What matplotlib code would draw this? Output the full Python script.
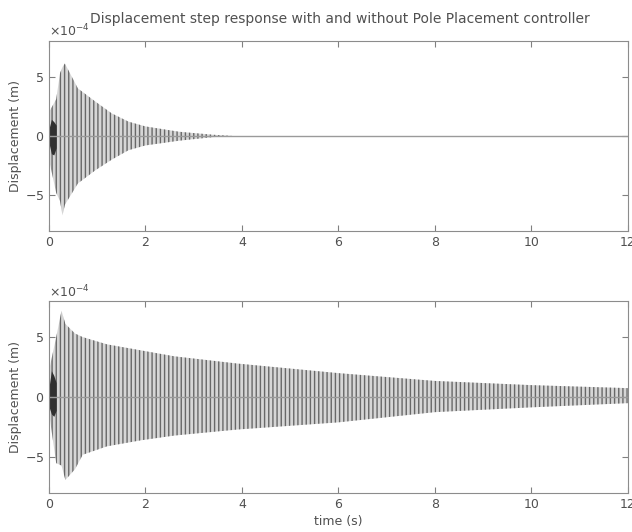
import matplotlib
matplotlib.use("Agg")
import numpy as np
import matplotlib.pyplot as plt
from matplotlib.ticker import ScalarFormatter

# Envelope of the oscillation (units of 1e-4 m)
top_t = [0.0, 0.15, 0.23, 0.28, 0.33, 0.6, 0.96, 1.3, 1.65, 2.0, 2.7, 3.4, 3.8]
top_up = [2.0, 3.1, 5.3, 5.8, 6.1, 4.0, 2.9, 1.9, 1.2, 0.8, 0.35, 0.1, 0.0]
top_lo = [-2.0, -4.8, -5.5, -6.7, -5.8, -4.0, -2.9, -2.0, -1.2, -0.8, -0.4, -0.1, 0.0]

bot_t = [0.0, 0.15, 0.26, 0.34, 0.54, 0.7, 1.2, 1.9, 2.6, 3.9, 6.0, 8.0, 10.0, 12.0]
bot_up = [2.2, 5.0, 7.2, 6.1, 5.3, 5.0, 4.4, 3.9, 3.4, 2.8, 2.0, 1.35, 1.0, 0.75]
bot_lo = [-1.3, -5.5, -5.7, -6.9, -6.0, -4.8, -4.1, -3.6, -3.2, -2.7, -2.1, -1.25, -0.85, -0.5]

# dark burst right after the step
burst_t = [0.0, 0.05, 0.1, 0.15]
top_burst_up = [0.6, 1.4, 1.2, 0.9]
top_burst_lo = [-0.6, -1.5, -1.6, -1.0]
bot_burst_up = [0.8, 2.2, 1.8, 1.2]
bot_burst_lo = [-0.8, -1.4, -1.6, -1.1]

t_span = [0, 12]
xticks = [0, 2, 4, 6, 8, 10, 12]
yticks = [-5, 0, 5]
scale = 1e-4

plt.rcParams["hatch.color"] = "#686868"
plt.rcParams["hatch.linewidth"] = 1.0
txt = "#505050"

fig = plt.figure(figsize=(6.32, 5.32), dpi=100)
ax1 = fig.add_axes([0.0775, 0.566, 0.916, 0.357])
ax2 = fig.add_axes([0.0775, 0.073, 0.916, 0.361])


def draw(ax, t, up, lo, bt, bup, blo):
    ax.plot(t_span, [0, 0], color="#9a9a9a", lw=1.0)
    ax.fill_between(np.array(t), np.array(lo) * scale, np.array(up) * scale,
                    facecolor="#d6d6d6", edgecolor="#686868", hatch="||||", lw=0)
    ax.fill_between(np.array(bt), np.array(blo) * scale, np.array(bup) * scale,
                    facecolor="#303030", edgecolor="#303030", lw=0)
    ax.set_xlim(0, 12)
    ax.set_ylim(-8 * scale, 8 * scale)
    ax.set_xticks(xticks)
    ax.set_yticks([v * scale for v in yticks])
    fmt = ScalarFormatter(useMathText=True)
    fmt.set_powerlimits((0, 0))
    ax.yaxis.set_major_formatter(fmt)
    ax.yaxis.get_offset_text().set_color(txt)
    ax.yaxis.get_offset_text().set_fontsize(9)
    ax.tick_params(direction="in", top=True, right=True, labelsize=9,
                   colors="#808080", labelcolor=txt, length=4)
    for s in ax.spines.values():
        s.set_color("#8c8c8c")
    ax.set_ylabel("Displacement (m)", fontsize=9, color=txt, labelpad=2)


draw(ax1, top_t, top_up, top_lo, burst_t, top_burst_up, top_burst_lo)
draw(ax2, bot_t, bot_up, bot_lo, burst_t, bot_burst_up, bot_burst_lo)

fig.text(0.537, 0.964,
         "Displacement step response with and without Pole Placement controller",
         fontsize=10, color=txt, ha="center", va="center")
ax2.set_xlabel("time (s)", fontsize=9, color=txt, labelpad=3)

fig.savefig("out.png", dpi=100)
